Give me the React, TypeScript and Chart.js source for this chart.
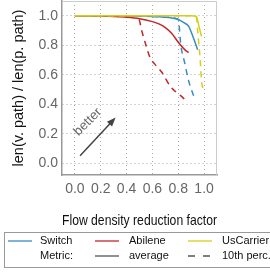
import React, { useEffect, useRef } from "react";
import { Chart, registerables } from "chart.js";
Chart.register(...registerables);

const xTicks = [0, 0.2, 0.4, 0.6, 0.8, 1.0];
const yTicks = [0, 0.2, 0.4, 0.6, 0.8, 1.0];

const switchAvgX = [0, 0.2, 0.4, 0.6, 0.7, 0.75, 0.8, 0.85, 0.88, 0.9, 0.93, 0.95];
const switchAvgY = [1.0, 1.0, 0.998, 0.995, 0.99, 0.985, 0.975, 0.95, 0.93, 0.89, 0.82, 0.77];
const switchP10X = [0, 0.2, 0.4, 0.6, 0.7, 0.8, 0.82, 0.85, 0.88, 0.93];
const switchP10Y = [1.0, 1.0, 1.0, 0.995, 0.99, 0.975, 0.8, 0.68, 0.56, 0.43];

const abileneAvgX = [0, 0.1, 0.2, 0.3, 0.4, 0.5, 0.6, 0.65, 0.7, 0.75, 0.8, 0.85, 0.88];
const abileneAvgY = [1.0, 1.0, 0.998, 0.995, 0.99, 0.98, 0.96, 0.945, 0.92, 0.88, 0.82, 0.77, 0.75];
const abileneP10X = [0, 0.2, 0.4, 0.45, 0.49, 0.52, 0.55, 0.58, 0.62, 0.67, 0.74, 0.8, 0.83, 0.87];
const abileneP10Y = [1.0, 1.0, 1.0, 1.0, 0.99, 0.89, 0.8, 0.72, 0.67, 0.62, 0.52, 0.47, 0.45, 0.41];

const usAvgX = [0, 0.2, 0.4, 0.6, 0.8, 0.9, 0.94, 0.96, 0.98];
const usAvgY = [1.0, 1.0, 1.0, 1.0, 1.0, 1.0, 0.995, 0.93, 0.86];
const usP10X = [0, 0.2, 0.4, 0.6, 0.8, 0.9, 0.94, 0.95, 0.97, 0.98, 0.99];
const usP10Y = [1.0, 1.0, 1.0, 1.0, 1.0, 1.0, 0.99, 0.9, 0.7, 0.56, 0.51];

const arrowFrom = [0.04, 0.05];
const arrowTo = [0.315, 0.31];
const betterPos = [0.1, 0.28];

const BLUE = "#3a8bc4";
const RED = "#c0282c";
const YELLOW = "#d4cf1c";
const GRAY = "#555555";
const FONT = "'Liberation Sans', Arial, sans-serif";

const zip = (xs: number[], ys: number[]) => xs.map((x, i) => ({ x, y: ys[i] }));

const series = (label: string, xs: number[], ys: number[], color: string, dashed: boolean) => ({
  label,
  data: zip(xs, ys),
  borderColor: color,
  backgroundColor: color,
  borderWidth: 1.5,
  borderDash: dashed ? [6, 5] : [],
  pointRadius: 0,
  fill: false,
  cubicInterpolationMode: "monotone" as const,
});

const framePlugin = {
  id: "frame",
  afterDraw(chart: any) {
    const { ctx, chartArea: a, scales } = chart;
    ctx.save();
    ctx.strokeStyle = "#cccccc";
    ctx.lineWidth = 1;
    ctx.beginPath();
    ctx.moveTo(a.left, a.top + 0.5);
    ctx.lineTo(a.right - 0.5, a.top + 0.5);
    ctx.lineTo(a.right - 0.5, a.bottom);
    ctx.stroke();

    // arrow
    const x0 = scales.x.getPixelForValue(arrowFrom[0]);
    const y0 = scales.y.getPixelForValue(arrowFrom[1]);
    const x1 = scales.x.getPixelForValue(arrowTo[0]);
    const y1 = scales.y.getPixelForValue(arrowTo[1]);
    const ang = Math.atan2(y1 - y0, x1 - x0);
    ctx.strokeStyle = "#444";
    ctx.fillStyle = "#444";
    ctx.lineWidth = 1.5;
    ctx.beginPath();
    ctx.moveTo(x0, y0);
    ctx.lineTo(x1 - 6 * Math.cos(ang), y1 - 6 * Math.sin(ang));
    ctx.stroke();
    ctx.beginPath();
    ctx.moveTo(x1, y1);
    ctx.lineTo(x1 - 9 * Math.cos(ang) + 3.5 * Math.sin(ang), y1 - 9 * Math.sin(ang) - 3.5 * Math.cos(ang));
    ctx.lineTo(x1 - 9 * Math.cos(ang) - 3.5 * Math.sin(ang), y1 - 9 * Math.sin(ang) + 3.5 * Math.cos(ang));
    ctx.closePath();
    ctx.fill();

    // better text
    const tx = scales.x.getPixelForValue(betterPos[0]);
    const ty = scales.y.getPixelForValue(betterPos[1]);
    ctx.translate(tx, ty);
    ctx.rotate(-Math.PI / 4);
    ctx.fillStyle = "#666";
    ctx.font = `13px ${FONT}`;
    ctx.textAlign = "center";
    ctx.textBaseline = "middle";
    ctx.fillText("better", 0, 0);
    ctx.restore();

    // legend
    ctx.save();
    ctx.strokeStyle = "#999";
    ctx.lineWidth = 1;
    ctx.strokeRect(4.5, 232.5, 270, 35);
    ctx.font = `11px ${FONT}`;
    ctx.textBaseline = "middle";
    ctx.textAlign = "left";
    ctx.fillStyle = "#111";
    const rows = [241, 256];
    const cols = [
      { lx: 8, tx: 40 },
      { lx: 95, tx: 129 },
      { lx: 188, tx: 222 },
    ];
    const entries = [
      { r: 0, c: 0, label: "Switch", color: BLUE, dash: [] as number[] },
      { r: 0, c: 1, label: "Abilene", color: RED, dash: [] as number[] },
      { r: 0, c: 2, label: "UsCarrier", color: YELLOW, dash: [] as number[] },
      { r: 1, c: 0, label: "Metric:", color: null, dash: [] as number[] },
      { r: 1, c: 1, label: "average", color: GRAY, dash: [] as number[] },
      { r: 1, c: 2, label: "10th perc.", color: GRAY, dash: [7, 8] },
    ];
    for (const e of entries) {
      const y = rows[e.r];
      const c = cols[e.c];
      if (e.color) {
        ctx.strokeStyle = e.color;
        ctx.lineWidth = 1.3;
        ctx.setLineDash(e.dash);
        ctx.beginPath();
        ctx.moveTo(c.lx, y);
        ctx.lineTo(c.lx + 24, y);
        ctx.stroke();
        ctx.setLineDash([]);
      }
      ctx.fillText(e.label, c.tx, y);
    }
    ctx.restore();
  },
};

export default function App() {
  const ref = useRef<HTMLCanvasElement>(null);
  useEffect(() => {
    const chart = new Chart(ref.current!, {
      type: "line",
      data: {
        datasets: [
          series("UsCarrier avg", usAvgX, usAvgY, YELLOW, false),
          series("UsCarrier p10", usP10X, usP10Y, YELLOW, true),
          series("Abilene avg", abileneAvgX, abileneAvgY, RED, false),
          series("Abilene p10", abileneP10X, abileneP10Y, RED, true),
          series("Switch avg", switchAvgX, switchAvgY, BLUE, false),
          series("Switch p10", switchP10X, switchP10Y, BLUE, true),
        ],
      },
      options: {
        responsive: false,
        animation: false,
        layout: { padding: { left: 0, right: 53, top: 1, bottom: 43 } },
        plugins: { legend: { display: false }, tooltip: { enabled: false } },
        scales: {
          x: {
            type: "linear",
            min: -0.1,
            max: 1.1,
            afterBuildTicks: (s: any) => {
              s.ticks = xTicks.map((v) => ({ value: v }));
            },
            afterFit: (s: any) => {
              s.height = 55;
              s.paddingLeft = 0;
              s.paddingRight = 0;
            },
            grid: { color: "#aaa", drawTicks: false, tickLength: 0 } as any,
            border: { color: "#999", width: 1.5, dash: [1, 3] } as any,
            ticks: {
              padding: 6,
              color: "#666",
              font: { family: FONT, size: 14 },
              callback: (v: any) => Number(v).toFixed(1),
              maxRotation: 0,
              autoSkip: false,
            },
            title: {
              display: true,
              text: "Flow density reduction factor",
              color: "#111",
              font: { family: FONT, size: 14.5 },
              padding: { top: 8, bottom: 0 },
            },
          },
          y: {
            type: "linear",
            min: -0.08,
            max: 1.1,
            afterBuildTicks: (s: any) => {
              s.ticks = yTicks.map((v) => ({ value: v }));
            },
            afterFit: (s: any) => {
              s.width = 62;
              s.paddingTop = 0;
              s.paddingBottom = 0;
            },
            grid: { color: "#aaa", drawTicks: false, tickLength: 0 } as any,
            border: { color: "#999", width: 1.5, dash: [1, 3] } as any,
            ticks: {
              padding: 4,
              color: "#666",
              font: { family: FONT, size: 14 },
              callback: (v: any) => Number(v).toFixed(1),
              autoSkip: false,
            },
            title: {
              display: true,
              text: "len(v. path) / len(p. path)",
              color: "#111",
              font: { family: FONT, size: 14.5 },
              padding: { top: 10, bottom: 0 },
            },
          },
        },
      } as any,
      plugins: [framePlugin],
    });
    return () => chart.destroy();
  }, []);
  return (
    <div style={{ position: "absolute", left: 0, top: 0, width: 270, height: 273 }}>
      <canvas ref={ref} width={270} height={273} style={{ width: 270, height: 273 }} />
    </div>
  );
}
